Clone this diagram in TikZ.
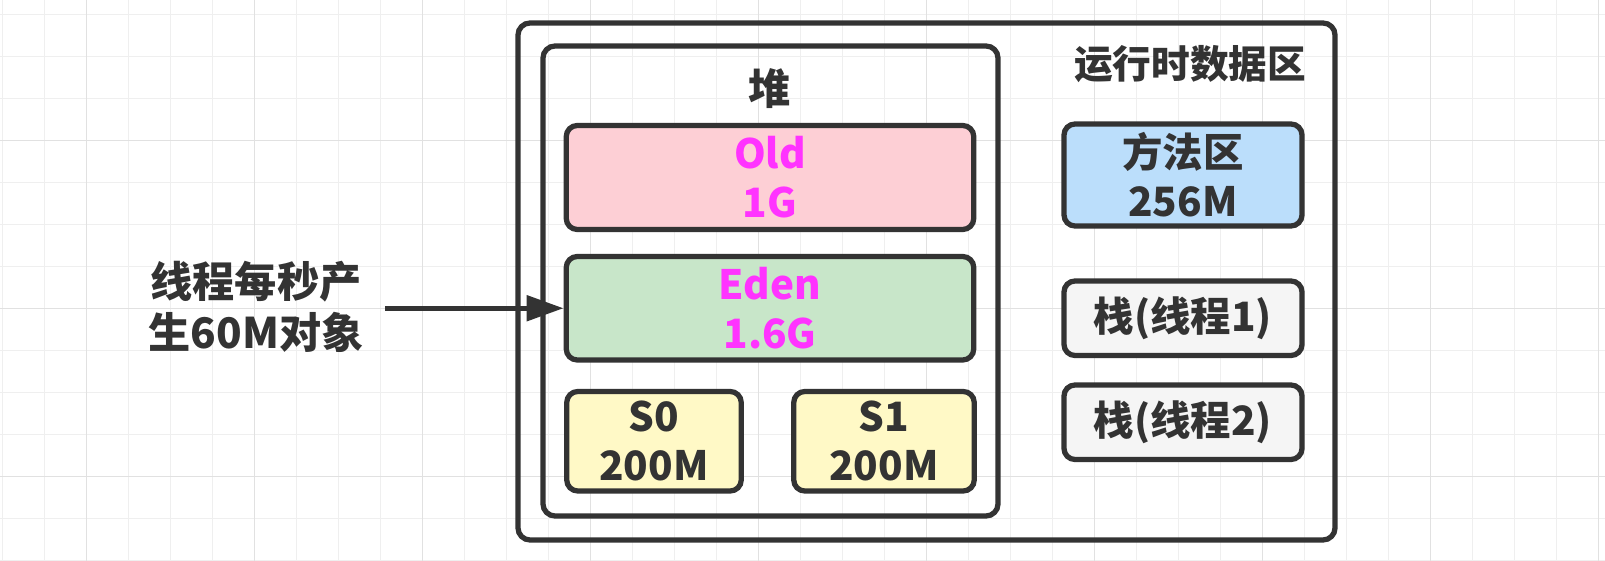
\documentclass[tikz,border=0pt]{standalone}
\usepackage{fontspec}
\setmainfont{Noto Sans CJK SC}
\usetikzlibrary{arrows.meta}
\definecolor{ink}{HTML}{333333}
\definecolor{gentext}{HTML}{FF33FF}
\definecolor{oldfill}{HTML}{FDCFD5}
\definecolor{edenfill}{HTML}{C8E6C9}
\definecolor{survfill}{HTML}{FFF9C6}
\definecolor{methfill}{HTML}{BBDEFB}
\definecolor{stackfill}{HTML}{F5F5F5}
\definecolor{gridlight}{HTML}{EFEFEF}
\definecolor{griddark}{HTML}{E1E1E1}
\begin{document}
\begin{tikzpicture}[
    >={Triangle[length=3.7mm, width=2.5mm]},
    areabox/.style={draw=ink, line width=1.5pt, rounded corners=1.2mm},
    areatitle/.style={inner sep=0pt, text=ink, font=\bfseries\fontsize{11}{13}\selectfont},
    region/.style={draw=ink, line width=1.5pt, rounded corners=1.1mm, inner sep=0pt, align=center,
        text=ink, font=\bfseries\fontsize{11.5}{14}\selectfont},
    younggen/.style={region, text=gentext},
]
    \useasboundingbox (0, 0) rectangle (16.05, 5.6);
    \begin{scope}
        \clip (0, 0) rectangle (16.05, 5.6);
        \draw[gridlight, line width=.3pt, step=.42, shift={(0.023, -0.003)}] (-1, -1) grid (17, 7);
        \draw[griddark, line width=.3pt, step=1.68, shift={(0.863, 0.837)}] (-2, -2) grid (17, 7);
    \end{scope}
    \draw[areabox] (5.18, 0.20) rectangle (13.35, 5.37);
    \draw[areabox] (5.43, 0.44) rectangle (9.98, 5.14);
    \node[areatitle, font=\bfseries\fontsize{12}{14}\selectfont] (heap) at (7.70, 4.71) {堆};
    \node[areatitle] (rtarea) at (11.90, 4.96) {运行时数据区};
    \node[younggen, fill=oldfill, minimum width=4.075cm, minimum height=1.04cm] (old) at (7.70, 3.825) {Old\\1G};
    \node[younggen, fill=edenfill, minimum width=4.075cm, minimum height=1.035cm] (eden) at (7.70, 2.5175) {Eden\\1.6G};
    \node[region, fill=survfill, minimum width=1.745cm, minimum height=.995cm] (s0) at (6.54, 1.1875) {S0\\200M};
    \node[region, fill=survfill, minimum width=1.805cm, minimum height=.995cm] (s1) at (8.84, 1.1875) {S1\\200M};
    \node[region, fill=methfill, minimum width=2.38cm, minimum height=1.02cm] (method) at (11.83, 3.85) {方法区\\256M};
    \node[region, fill=stackfill, minimum width=2.38cm, minimum height=.745cm] (stack1) at (11.83, 2.4175) {栈(线程1)};
    \node[region, fill=stackfill, minimum width=2.38cm, minimum height=.745cm] (stack2) at (11.83, 1.3775) {栈(线程2)};
    \node[areatitle, align=center, font=\bfseries\fontsize{12}{14.5}\selectfont] (alloc) at (2.56, 2.535) {线程每秒产\\生60M对象};
    \coordinate (feed) at (3.85, 2.5175);
    \draw[->, ink, line width=1.5pt] (feed) -- (eden.west);
\end{tikzpicture}
\end{document}
